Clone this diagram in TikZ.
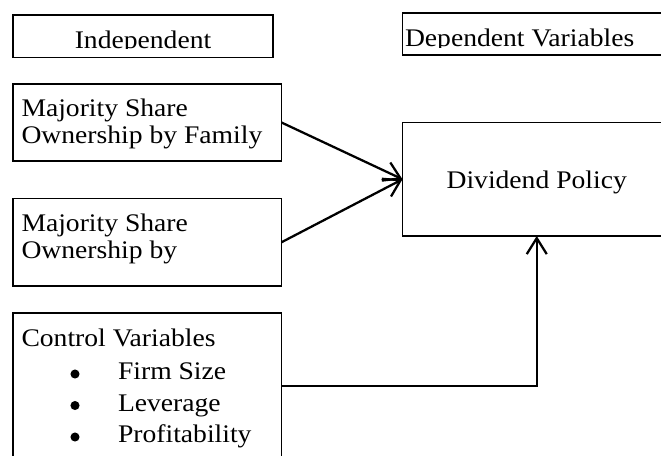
\documentclass[tikz,border=0pt]{standalone}
\usepackage{fontspec}
\setmainfont[FakeStretch=1.09]{Liberation Serif}
\usetikzlibrary{arrows.meta}

\tikzset{
  box/.style={draw, line width=1.25pt, inner sep=0pt, outer sep=0pt},
  txt/.style={inner sep=0pt, outer sep=0pt, align=left, font=\fontsize{19}{20}\selectfont},
  dot/.style={circle, fill, inner sep=0pt, minimum size=6.8pt},
  link/.style={line width=1.7pt, -{Straight Barb[length=12pt,width=15pt]}},
}

\begin{document}
\begin{tikzpicture}[x=0.75pt,y=-0.75pt]
\clip (0,0) rectangle (661,455);

% boxes
\node[box, minimum width=195pt, minimum height=31.9pt] (indep) at (143,36.25) {};
\node[box, minimum width=208pt, minimum height=31.5pt] (dep) at (541.25,34) {};
\node[box, minimum width=201.4pt, minimum height=57.75pt] (fam) at (147.25,122.5) {};
\node[box, minimum width=201.4pt, minimum height=65.6pt] (inst) at (147.25,242.25) {};
\node[box, minimum width=201.4pt, minimum height=109pt] (ctrl) at (147.25,385.7) {};
\node[box, minimum width=201.4pt, minimum height=85.1pt] (div) at (536.75,179.25) {};

% headings, cut off at the bottom
\begin{scope}
  \clip (13,15) rectangle (273,48.8);
  \node[txt, anchor=base] (indeptxt) at (143,48.5) {Independent};
\end{scope}
\begin{scope}
  \clip (402.5,13) rectangle (661,47);
  \node[txt, anchor=base west] (deptxt) at (405,46.3) {Dependent Variables};
\end{scope}

% texts (base = last line)
\node[txt, anchor=base west] (famtxt) at (21.5,143.4) {Majority Share\\Ownership by Family};
\node[txt, anchor=base west] (insttxt) at (21.5,258.4) {Majority Share\\Ownership by};
\node[txt, anchor=base west, font=\fontsize{19}{23.6}\selectfont] (ctrltxt) at (21.5,442.5)
  {Control Variables\\[1.2pt]\hspace*{72.4pt}Firm Size\\\hspace*{72.4pt}Leverage\\\hspace*{72.4pt}Profitability};
\node[txt, anchor=base] (divtxt) at (536.7,188.3) {Dividend Policy};

% bullets
\node[dot] (b1) at (75,374) {};
\node[dot] (b2) at (75,405.5) {};
\node[dot] (b3) at (75,437) {};

% links
\draw[link] (fam.east) -- (div.west);
\draw[link] (inst.east) -- (div.west);
\draw[link] (ctrl.east) -| (div.south);
\end{tikzpicture}
\end{document}
